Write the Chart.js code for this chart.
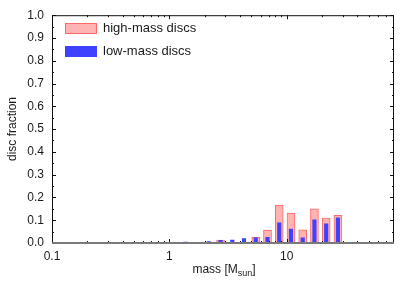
<!DOCTYPE html>
<html><head><meta charset="utf-8">
<script src="https://cdn.jsdelivr.net/npm/chart.js@4.4.1/dist/chart.umd.min.js"></script>
<style>html,body{margin:0;padding:0;background:#fff;}#wrap{width:414px;height:290px;position:relative}</style>
</head><body><div id="wrap"><canvas id="c" width="414" height="290"></canvas></div>
<script>
const massBins = [0.863,1.086,1.368,1.722,2.168,2.729,3.436,4.325,5.445,6.855,8.630,10.86,13.68,17.22,21.68,27.29];
const highMassFrac = [0,0,0,0,0,0.013,0,0,0.025,0.057,0.166,0.131,0.058,0.150,0.109,0.121];
const lowMassFrac = [0.002,0.003,0.004,0.003,0.006,0.012,0.013,0.019,0.023,0.025,0.088,0.061,0.023,0.102,0.084,0.111];
const xTickValues = [0.1,1,10];
const xTickLabels = ['0.1','1','10'];
const yTickValues = [0,0.1,0.2,0.3,0.4,0.5,0.6,0.7,0.8,0.9,1.0];
const yTickLabels = ['0.0','0.1','0.2','0.3','0.4','0.5','0.6','0.7','0.8','0.9','1.0'];
const seriesNames = ['high-mass discs','low-mass discs'];
const xTitle = 'mass [M';
const xTitleSub = 'sun';
const yTitle = 'disc fraction';

const FONT = '"Liberation Sans", Arial, sans-serif';
const PINK_FILL = 'rgb(255,180,180)';
const PINK_EDGE = 'rgb(255,105,105)';
const BLUE_FILL = 'rgb(64,64,255)';

const deco = {
  id: 'deco',
  afterDatasetsDraw(chart) {
    const ctx = chart.ctx, a = chart.chartArea;
    const xs = chart.scales.x, ys = chart.scales.y;
    ctx.save();
    ctx.strokeStyle = '#111';
    ctx.lineWidth = 1;
    ctx.strokeRect(a.left + 0.5, a.top + 0.5, a.right - a.left - 1, a.bottom - a.top);
    ctx.beginPath();
    for (let i = 0; i < yTickValues.length; i++) {
      const y = Math.round(ys.getPixelForValue(yTickValues[i])) + 0.5;
      ctx.moveTo(a.left, y); ctx.lineTo(a.left + 4, y);
      ctx.moveTo(a.right, y); ctx.lineTo(a.right - 4, y);
      if (i < yTickValues.length - 1) {
        const ym = Math.round(ys.getPixelForValue((yTickValues[i] + yTickValues[i+1]) / 2)) + 0.5;
        ctx.moveTo(a.left, ym); ctx.lineTo(a.left + 2, ym);
        ctx.moveTo(a.right, ym); ctx.lineTo(a.right - 2, ym);
      }
    }
    for (let d = 0.1; d < 100; d *= 10) {
      for (let k = 1; k <= 9; k++) {
        const v = d * k;
        if (v < xs.min - 1e-9 || v > xs.max) continue;
        const x = Math.round(xs.getPixelForValue(v)) + 0.5;
        const len = k === 1 ? 4 : 2;
        ctx.moveTo(x, a.bottom); ctx.lineTo(x, a.bottom - len);
        ctx.moveTo(x, a.top); ctx.lineTo(x, a.top + len);
      }
    }
    ctx.stroke();
    ctx.strokeStyle = '#7a7a7a';
    ctx.lineWidth = 2;
    ctx.beginPath();
    ctx.moveTo(a.left, a.bottom); ctx.lineTo(a.right, a.bottom);
    ctx.stroke();
    // legend
    ctx.lineWidth = 1;
    ctx.fillStyle = PINK_FILL; ctx.fillRect(65, 23, 32, 11);
    ctx.strokeStyle = PINK_EDGE; ctx.strokeRect(65.5, 23.5, 31, 10);
    ctx.fillStyle = BLUE_FILL; ctx.fillRect(65, 46, 32, 11);
    ctx.fillStyle = '#1a1a1a';
    ctx.font = '13px ' + FONT;
    ctx.textBaseline = 'middle'; ctx.textAlign = 'left';
    ctx.fillText(seriesNames[0], 103, 28.5);
    ctx.fillText(seriesNames[1], 103, 51.5);
    // y title
    ctx.font = '12px ' + FONT;
    ctx.save();
    ctx.translate(13, 129);
    ctx.rotate(-Math.PI / 2);
    ctx.textAlign = 'center';
    ctx.fillText(yTitle, 0, 0);
    ctx.restore();
    // x title with subscript
    ctx.textBaseline = 'alphabetic';
    ctx.font = '12px ' + FONT;
    const w1 = ctx.measureText(xTitle).width;
    ctx.font = '9px ' + FONT;
    const w2 = ctx.measureText(xTitleSub).width;
    ctx.font = '12px ' + FONT;
    const w3 = ctx.measureText(']').width;
    let x0 = 224 - (w1 + w2 + w3) / 2;
    ctx.fillText(xTitle, x0, 272.5);
    ctx.font = '9px ' + FONT;
    ctx.fillText(xTitleSub, x0 + w1, 275.5);
    ctx.font = '12px ' + FONT;
    ctx.fillText(']', x0 + w1 + w2, 272.5);
    ctx.restore();
  }
};

new Chart(document.getElementById('c'), {
  type: 'bar',
  data: {
    datasets: [
      {
        label: seriesNames[0],
        data: massBins.map((m, i) => ({x: m, y: highMassFrac[i]})),
        backgroundColor: PINK_FILL,
        borderColor: PINK_EDGE,
        borderWidth: 1,
        barThickness: 8,
        grouped: false,
        order: 2
      },
      {
        label: seriesNames[1],
        data: massBins.map((m, i) => ({x: m, y: lowMassFrac[i]})),
        backgroundColor: BLUE_FILL,
        borderWidth: 0,
        barThickness: 3.5,
        grouped: false,
        order: 1
      }
    ]
  },
  options: {
    responsive: false,
    animation: false,
    devicePixelRatio: 1,
    layout: {padding: {top: 14, right: 20, left: 0, bottom: 0}},
    plugins: {legend: {display: false}, tooltip: {enabled: false}},
    scales: {
      x: {
        type: 'logarithmic',
        min: 0.1, max: 82,
        grid: {display: false, drawTicks: false},
        border: {display: false},
        afterBuildTicks: (s) => { s.ticks = xTickValues.map(v => ({value: v, major: true})); },
        afterFit: (s) => { s.height = 47; },
        ticks: {
          autoSkip: false, maxRotation: 0, padding: 6,
          color: '#1a1a1a', font: {size: 12, family: FONT},
          callback: (v, i) => xTickLabels[i]
        }
      },
      y: {
        min: 0, max: 1,
        grid: {display: false, drawTicks: false},
        border: {display: false},
        afterBuildTicks: (s) => { s.ticks = yTickValues.map(v => ({value: v})); },
        afterFit: (s) => { s.width = 52; },
        ticks: {
          padding: 8,
          color: '#1a1a1a', font: {size: 12, family: FONT},
          callback: (v, i) => yTickLabels[i]
        }
      }
    }
  },
  plugins: [deco]
});
</script></body></html>
